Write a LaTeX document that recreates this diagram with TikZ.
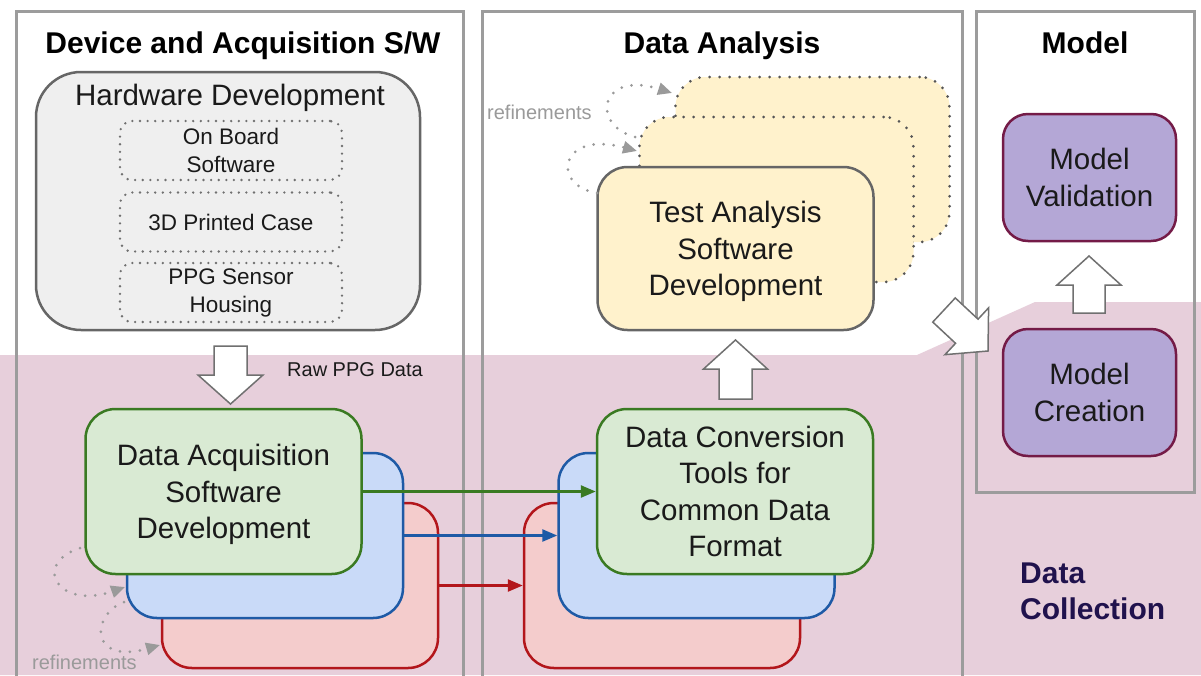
\documentclass[tikz,border=0pt]{standalone}
\usepackage{fontspec}
\setmainfont{Liberation Sans}
\usetikzlibrary{arrows.meta,calc}
\definecolor{pinkbg}{HTML}{E7CFDB}
\definecolor{colgray}{HTML}{9C9C9C}
\definecolor{hwfill}{HTML}{EFEFEF}
\definecolor{boxdark}{HTML}{666666}
\definecolor{gfill}{HTML}{D9EAD3}
\definecolor{gline}{HTML}{3A7A22}
\definecolor{bfill}{HTML}{C9DAF8}
\definecolor{bline}{HTML}{1E5AA6}
\definecolor{rfill}{HTML}{F4CCCC}
\definecolor{rline}{HTML}{B3161B}
\definecolor{yfill}{HTML}{FFF2CC}
\definecolor{pfill}{HTML}{B4A7D6}
\definecolor{pline}{HTML}{741B47}
\definecolor{dcol}{HTML}{20124D}
\definecolor{refgray}{HTML}{9A9A9A}
\definecolor{indot}{HTML}{707070}
\definecolor{dotdark}{HTML}{555555}
\definecolor{arrgray}{HTML}{707070}
\definecolor{txt}{HTML}{1A1A1A}
\newcommand\BoxFont{\fontsize{29.5}{36.5}\selectfont}
\newcommand\HeadFont{\fontsize{30}{36}\selectfont\bfseries}
\newcommand\InnerFont{\fontsize{22.5}{28}\selectfont}
\newcommand\SmallFont{\fontsize{20}{24}\selectfont}
\newcommand\blockarrow[5]{%
  \path ($(#2)!#5!(#1)$) coordinate (bah);
  \draw[blockarr] ($(#1)!#3!90:(#2)$) -- ($(bah)!#3!90:(#2)$) -- ($(bah)!#4!90:(#2)$) -- (#2)
    -- ($(bah)!#4!-90:(#2)$) -- ($(bah)!#3!-90:(#2)$) -- ($(#1)!#3!-90:(#2)$) -- cycle;
}
\tikzset{
 column/.style={draw=colgray, line width=3pt},
 sbox/.style={rounded corners=30pt, line width=2.5pt, inner sep=0pt, align=center, font=\BoxFont, text=txt, text depth=0pt, minimum width=276pt, minimum height=165pt},
 gbox/.style={sbox, fill=gfill, draw=gline},
 bbox/.style={sbox, fill=bfill, draw=bline},
 rbox/.style={sbox, fill=rfill, draw=rline},
 ybox/.style={sbox, fill=yfill, draw=boxdark, minimum height=163pt},
 ydot/.style={sbox, fill=yfill, draw=dotdark, line width=3pt, dash pattern=on 0pt off 10pt, line cap=round, minimum height=165pt, minimum width=274pt},
 pbox/.style={rounded corners=25pt, line width=2.5pt, fill=pfill, draw=pline, inner sep=0pt, align=center, font=\BoxFont, text=txt, minimum width=173pt, minimum height=127pt},
 inbox/.style={rounded corners=12pt, draw=indot, line width=2.6pt, dash pattern=on 0pt off 7.6pt, line cap=round, inner sep=0pt, align=center, font=\InnerFont, text=txt, minimum width=222pt, minimum height=59pt},
 hwbox/.style={rounded corners=45pt, line width=2.5pt, fill=hwfill, draw=boxdark, minimum width=384pt, minimum height=258pt, inner sep=0pt},
 head/.style={font=\HeadFont, anchor=base, inner sep=0pt, text=black},
 refl/.style={draw=refgray, line width=3pt, line cap=round, dash pattern=on 0pt off 10pt, -{Triangle[length=14pt,width=12pt]}},
 reftxt/.style={font=\SmallFont, text=refgray, anchor=base west, inner sep=0pt},
 flow/.style={line width=2.5pt, -{Triangle[length=15pt,width=12pt]}},
 blockarr/.style={draw=arrgray, fill=white, line width=1.5pt, line join=miter},
}
\begin{document}
\begin{tikzpicture}[x=1pt,y=-1pt]
\clip (0,0) rectangle (1201,675);
\fill[white] (0,0) rectangle (1201,675);
% data collection background
\fill[pinkbg] (0,355) -- (917,355) -- (1035,302) -- (1201,302) -- (1201,675) -- (0,675) -- cycle;
% columns
\draw[column] (16,11.5) rectangle (463,700);
\draw[column] (482,11.5) rectangle (962,700);
\draw[column] (976,11.5) rectangle (1194,492);
\node[head] (h1) at (243,53) {Device and Acquisition S/W};
\node[head] (h2) at (722,53) {Data Analysis};
\node[head] (h3) at (1085,53) {Model};
% hardware
\node[hwbox] (hw) at (228,201) {};
\node[font=\BoxFont, anchor=base, inner sep=0pt, text=txt] (hwt) at (230,105) {Hardware Development};
\node[inbox] (ob) at (231,150.5) {On Board\\Software};
\node[inbox] (pc) at (231,222) {3D Printed Case};
\node[inbox] (ps) at (231,292.5) {PPG Sensor\\Housing};
\node[font=\SmallFont, anchor=base west, inner sep=0pt, text=txt] (raw) at (287,376) {Raw PPG Data};
% acquisition stack
\node[rbox] (acqR) at (300,585.5) {};
\node[bbox] (acqB) at (265,535.5) {};
\node[gbox] (acqG) at (223.5,491.5) {Data Acquisition\\Software\\Development};
% conversion stack
\node[rbox] (cvR) at (662,585.5) {};
\node[bbox] (cvB) at (696.5,535.5) {};
\node[gbox] (cvG) at (735,491.5) {Data Conversion\\Tools for\\Common Data\\Format};
% test analysis stack
\node[ydot] (ta3) at (812.5,159.5) {};
\node[ydot] (ta2) at (776.5,199.5) {};
\node[ybox] (ta) at (735.5,248.5) {Test Analysis\\Software\\Development};
% model
\node[pbox] (mv) at (1089.5,177.5) {Model\\Validation};
\node[pbox] (mc) at (1089.5,392.5) {Model\\Creation};
\node[font=\HeadFont, text=dcol, anchor=base west, inner sep=0pt] (dc1) at (1020,583) {Data};
\node[font=\HeadFont, text=dcol, anchor=base west, inner sep=0pt] (dc2) at (1020,619) {Collection};
% flows
\draw[flow, draw=gline, fill=gline] (acqG.east) -- (acqG.east -| cvG.west);
\draw[flow, draw=bline, fill=bline] (acqB.east) -- (acqB.east -| cvB.west);
\draw[flow, draw=rline, fill=rline] (acqR.east) -- (acqR.east -| cvR.west);
% refinements
\node[reftxt] (rt1) at (487,119) {refinements};
\node[reftxt] (rt2) at (32,669) {refinements};
\coordinate (a1s) at (635,137); \coordinate (a1e) at (672,93);
\draw[refl] (a1s) .. controls (590,125) and (600,70) .. (a1e);
\coordinate (a2s) at (597,193); \coordinate (a2e) at (637,151);
\draw[refl] (a2s) .. controls (550,185) and (560,130) .. (a2e);
\coordinate (b1s) at (80,548); \coordinate (b1e) at (125,587);
\draw[refl] (b1s) .. controls (30,565) and (60,610) .. (b1e);
\coordinate (b2s) at (124,602); \coordinate (b2e) at (160,645);
\draw[refl] (b2s) .. controls (90,615) and (90,665) .. (b2e);
% block arrows
\coordinate (rawT) at (230.5,346); \coordinate (rawH) at (230.5,404);
\blockarrow{rawT}{rawH}{16.5pt}{32.5pt}{29pt}
\coordinate (cvT) at (735.5,399); \coordinate (cvH) at (735.5,340);
\blockarrow{cvT}{cvH}{16.5pt}{32pt}{29pt}
\coordinate (mT) at (1089,313); \coordinate (mH) at (1089,256);
\blockarrow{mT}{mH}{16pt}{32pt}{29pt}
\coordinate (dT) at (944,310); \coordinate (dH) at (988,351);
\blockarrow{dT}{dH}{16.5pt}{32pt}{29pt}
\end{tikzpicture}
\end{document}
